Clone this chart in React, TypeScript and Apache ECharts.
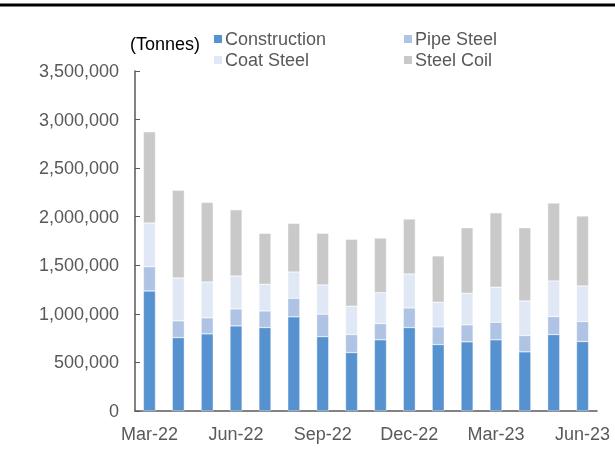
import React, { useEffect, useRef } from "react";
import * as echarts from "echarts";

const categories = ["Mar-22","Apr-22","May-22","Jun-22","Jul-22","Aug-22","Sep-22","Oct-22","Nov-22","Dec-22","Jan-23","Feb-23","Mar-23","Apr-23","May-23","Jun-23"];
const construction = [1236000,756000,794000,876000,859000,969000,766000,602000,733000,859000,684000,712000,733000,609000,787000,715000];
const pipeSteel = [250000,172000,165000,175000,171000,192000,231000,185000,167000,202000,182000,175000,181000,168000,185000,206000];
const coatSteel = [449000,442000,369000,339000,275000,270000,301000,292000,319000,350000,254000,325000,360000,356000,367000,366000];
const steelCoil = [938000,901000,819000,681000,524000,500000,531000,688000,561000,565000,476000,674000,766000,753000,801000,720000];

const seriesNames = ["Construction", "Pipe Steel", "Coat Steel", "Steel Coil"];
const seriesData = [construction, pipeSteel, coatSteel, steelCoil];
const colors = ["#5592CF", "#AFC3E5", "#E0E8F6", "#C9C9C9"];

const FONT = "Liberation Sans";
const TXT = "#595959";
const FS = 18;

export default function App() {
  const ref = useRef<HTMLDivElement>(null);
  useEffect(() => {
    const chart = echarts.init(ref.current!, undefined, { renderer: "svg" });
    const legendPos = [
      { left: 212, top: 30 },
      { left: 402, top: 30 },
      { left: 212, top: 51 },
      { left: 402, top: 51 },
    ];
    chart.setOption({
      animation: false,
      textStyle: { fontFamily: FONT },
      grid: { left: 135, right: 18, top: 71, bottom: 41, containLabel: false },
      legend: seriesNames.map((n, i) => ({
        data: [n],
        left: legendPos[i].left,
        top: legendPos[i].top,
        itemWidth: 10,
        itemHeight: 10,
        itemGap: 0,
        padding: 0,
        icon: "rect",
        textStyle: { fontFamily: FONT, fontSize: FS, color: TXT, padding: [0, 0, 0, -3] },
      })),
      graphic: [
        { type: "line", shape: { x1: 0, y1: 5, x2: 615, y2: 5 }, style: { stroke: "#000", lineWidth: 3 } },
        { type: "text", left: 130, top: 35, style: { text: "(Tonnes)", fontFamily: FONT, fontSize: FS, fill: "#000" } },
      ],
      xAxis: {
        type: "category",
        data: categories,
        boundaryGap: true,
        axisLine: { lineStyle: { color: "#595959", width: 1.5 } },
        axisTick: { inside: true, interval: 2, length: 5, lineStyle: { color: "#595959" } },
        axisLabel: { interval: 2, color: TXT, fontSize: FS, fontFamily: FONT, margin: 14 },
      },
      yAxis: {
        type: "value",
        min: 0,
        max: 3500000,
        interval: 500000,
        splitLine: { show: false },
        axisLine: { show: true, lineStyle: { color: "#595959", width: 1.5 } },
        axisTick: { show: true, inside: true, length: 5, lineStyle: { color: "#595959" } },
        axisLabel: {
          color: TXT,
          fontSize: FS,
          fontFamily: FONT,
          margin: 16,
          formatter: (v: number) => v.toLocaleString("en-US"),
        },
      },
      series: seriesNames.map((n, i) => ({
        name: n,
        type: "bar",
        stack: "total",
        data: seriesData[i],
        barWidth: 12,
        itemStyle: { color: colors[i], borderColor: "#fff", borderWidth: 0.4 },
      })),
    });
    return () => chart.dispose();
  }, []);
  return <div ref={ref} style={{ position: "fixed", left: 0, top: 0, width: 615, height: 452 }} />;
}
